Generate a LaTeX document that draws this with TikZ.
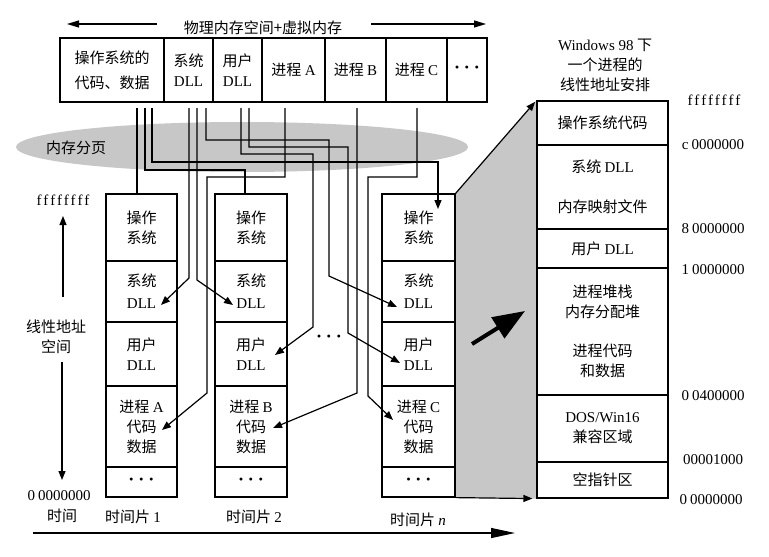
\documentclass[tikz,border=0pt]{standalone}
\usepackage{fontspec}
\setmainfont{Liberation Serif}
\newfontfamily\cjkfont{Noto Sans CJK SC}
\newfontfamily\hexfont[LetterSpace=14]{Liberation Serif}
\usetikzlibrary{arrows.meta,calc,backgrounds}
\definecolor{paleg}{gray}{0.78}
\newcommand\lat[1]{{\rmfamily #1}}
\newcommand\dotsx{{\rmfamily\bfseries\fontsize{9}{9}\selectfont ·\hspace{2pt}·\hspace{2pt}·}}
\begin{document}
\begin{tikzpicture}[x=0.5pt,y=-0.5pt,
  font=\cjkfont\fontsize{7.5}{10}\selectfont,
  cellbox/.style={draw,line width=0.6pt,inner sep=0pt,align=center},
  txt/.style={inner sep=0pt,align=center},
  wire/.style={line width=0.6pt},
  arrw/.style={-{Triangle[length=4.5pt,width=3.5pt]}},
  longarrw/.style={-{Triangle[length=6pt,width=3.5pt]}}]
\useasboundingbox (0,0) rectangle (769,556);
% title with arrows
\node[txt] (title) at (263,28) {物理内存空间+虚拟内存};
\coordinate (la) at (157,24); \coordinate (lb) at (67,24);
\coordinate (ra) at (371,24); \coordinate (rb) at (486,24);
\draw[wire,longarrw] (la) -- (lb);
\draw[wire,longarrw] (ra) -- (rb);
% top row
\node[cellbox,minimum width=52pt,minimum height=32pt] (tOS) at (112,70) {操作系统的\\[2.5pt]代码、数据};
\node[cellbox,minimum width=24.5pt,minimum height=32pt] (tSys) at (188.5,70) {系统\\\lat{DLL}};
\node[cellbox,minimum width=24.5pt,minimum height=32pt] (tUsr) at (237.5,70) {用户\\\lat{DLL}};
\node[cellbox,minimum width=31.5pt,minimum height=32pt] (tA) at (293.5,70) {进程 \lat{A}};
\node[cellbox,minimum width=30.5pt,minimum height=32pt] (tB) at (355.5,70) {进程 \lat{B}};
\node[cellbox,minimum width=30.5pt,minimum height=32pt] (tC) at (416.5,70) {进程 \lat{C}};
\node[cellbox,minimum width=20pt,minimum height=32pt] (tDots) at (467,70) {\dotsx};
% paging label
\node[txt] (paging) at (76,148) {内存分页};
% column 1
\node[cellbox,minimum width=35.5pt,minimum height=33.5pt] (c1os) at (141.5,227.5) {操作\\系统};
\node[cellbox,minimum width=35.5pt,minimum height=30.5pt] (c1sys) at (141.5,291.5) {系统\\[1pt]\lat{DLL}};
\node[cellbox,minimum width=35.5pt,minimum height=32pt] (c1usr) at (141.5,354) {用户\\\lat{DLL}};
\node[cellbox,minimum width=35.5pt,minimum height=40.5pt] (c1proc) at (141.5,426.5) {进程 \lat{A}\\代码\\数据};
\node[cellbox,minimum width=35.5pt,minimum height=15pt] (c1dots) at (141.5,482) {\dotsx};
% column 2
\node[cellbox,minimum width=36pt,minimum height=33.5pt] (c2os) at (251,227.5) {操作\\系统};
\node[cellbox,minimum width=36pt,minimum height=30.5pt] (c2sys) at (251,291.5) {系统\\[1pt]\lat{DLL}};
\node[cellbox,minimum width=36pt,minimum height=32pt] (c2usr) at (251,354) {用户\\\lat{DLL}};
\node[cellbox,minimum width=36pt,minimum height=40.5pt] (c2proc) at (251,426.5) {进程 \lat{B}\\代码\\数据};
\node[cellbox,minimum width=36pt,minimum height=15pt] (c2dots) at (251,482) {\dotsx};
% column n
\node[cellbox,minimum width=36.5pt,minimum height=33.5pt] (c3os) at (418.5,227.5) {操作\\系统};
\node[cellbox,minimum width=36.5pt,minimum height=30.5pt] (c3sys) at (418.5,291.5) {系统\\[1pt]\lat{DLL}};
\node[cellbox,minimum width=36.5pt,minimum height=32pt] (c3usr) at (418.5,354) {用户\\\lat{DLL}};
\node[cellbox,minimum width=36.5pt,minimum height=40.5pt] (c3proc) at (418.5,426.5) {进程 \lat{C}\\代码\\数据};
\node[cellbox,minimum width=36.5pt,minimum height=15pt] (c3dots) at (418.5,482) {\dotsx};
\node[txt] (mdots) at (329,339) {\dotsx};
% Windows 98 layout
\node[cellbox,minimum width=65.5pt,minimum height=22pt] (bOS) at (602.5,123) {操作系统代码};
\node[cellbox,minimum width=65.5pt,minimum height=42pt] (bSys) at (602.5,187) {系统 \lat{DLL}\\[10pt]内存映射文件};
\node[cellbox,minimum width=65.5pt,minimum height=19.5pt] (bUsr) at (602.5,248.5) {用户 \lat{DLL}};
\node[cellbox,minimum width=65.5pt,minimum height=63.5pt] (bProc) at (602.5,331.5) {进程堆栈\\内存分配堆\\[9.5pt]进程代码\\和数据};
\node[cellbox,minimum width=65.5pt,minimum height=33.5pt] (bDos) at (602.5,428.5) {\lat{DOS/Win16}\\兼容区域};
\node[cellbox,minimum width=65.5pt,minimum height=18pt] (bNull) at (602.5,480) {空指针区};
\node[txt] (wtitle) at (605,65) {\lat{Windows 98} 下\\一个进程的\\线性地址安排};
% addresses
\node[txt] (aF) at (714,100) {\hexfont ffffffff};
\node[txt] (aC) at (713,145) {\lat{c\kern1.5pt 0000000}};
\node[txt] (a8) at (713,229) {\lat{8\kern1.5pt 0000000}};
\node[txt] (a1) at (713,270) {\lat{1\kern1.5pt 0000000}};
\node[txt] (a04) at (713,396) {\lat{0\kern1.5pt 0400000}};
\node[txt] (a1000) at (713,460) {\lat{00001000}};
\node[txt] (a0) at (711,500) {\lat{0\kern1.5pt 0000000}};
% backgrounds: white page, paging ellipse, shaded zoom region
\begin{pgfonlayer}{background}
\fill[white] (0,0) rectangle (769,556);
\fill[paleg] (242,147) ellipse [x radius=113pt, y radius=12.5pt];
\fill[paleg] (c3os.north east) -- (bOS.north west) -- (bNull.south west) -- (c3dots.south east) -- cycle;
\end{pgfonlayer}
\draw[wire,arrw,shorten >=1pt] (c3os.north east) -- (bOS.north west);
\draw[wire,arrw,shorten >=2pt] (c3dots.south east) -- (bNull.south west);
\coordinate (bigS) at (472,344); \coordinate (bigE) at (525,311);
\draw[line width=2pt,-{Triangle[length=16pt,width=12pt]}] (bigS) -- (bigE);
% left axis
\node[txt] (lF) at (63,200) {\hexfont ffffffff};
\node[txt] (lspace) at (56,337) {线性地址\\空间};
\node[txt] (l0) at (59,496) {\lat{0\kern1.5pt 0000000}};
\node[txt] (ltime) at (62,516) {时间};
\coordinate (upS) at (63,297); \coordinate (upE) at (63,216);
\coordinate (dnS) at (62,362); \coordinate (dnE) at (62,480);
\draw[wire,arrw] (upS) -- (upE);
\draw[wire,arrw] (dnS) -- (dnE);
% time slices
\node[txt] (ts1) at (133,517) {时间片 \lat{1}};
\node[txt] (ts2) at (254,517) {时间片 \lat{2}};
\node[txt] (tsn) at (418,520) {时间片 \lat{\textit{n}}};
\coordinate (tmS) at (33,533); \coordinate (tmE) at (515,533);
\draw[wire,-{Triangle[length=12pt,width=5pt]}] (tmS) -- (tmE);
% connectors
\coordinate (s1) at (137,108); \coordinate (s2) at (145,108); \coordinate (s3) at (152,108);
\coordinate (s4) at (189,108); \coordinate (s5) at (197,108); \coordinate (s6) at (206,108);
\coordinate (s7) at (241,108); \coordinate (s8) at (249,108);
\coordinate (s9) at (285,108); \coordinate (s10) at (357,108); \coordinate (s11) at (417,108);
\coordinate (e2) at (245,194); \coordinate (e3) at (438,209);
\coordinate (e4) at (161,305); \coordinate (e5) at (233,305); \coordinate (e6) at (397,307);
\coordinate (e7) at (275,355); \coordinate (e8) at (400,363);
\coordinate (e9) at (162,430); \coordinate (e10) at (273,428); \coordinate (e11) at (393,420);
\draw[wire] (s1) -- (s1 |- c1os.north);
\draw[wire] (s2) -- (145,170) -| (e2);
\draw[wire,arrw] (s3) -- (152,162) -| (e3);
\draw[wire,arrw] (s4) -- (189,278) -- (e4);
\draw[wire,arrw] (s5) -- (197,280) -- (e5);
\draw[wire,arrw] (s6) -- (206,140) -| (329,276) -- (e6);
\draw[wire,arrw] (s7) -- (241,154) -| (313,327) -- (e7);
\draw[wire,arrw] (s8) -- (249,147) -| (348,333) -- (e8);
\draw[wire,arrw] (s9) -- (285,177) -| (207,393) -- (e9);
\draw[wire,arrw] (s10) -- (357,393) -- (e10);
\draw[wire,arrw] (s11) -- (417,177) -| (368,396) -- (e11);
\end{tikzpicture}
\end{document}
